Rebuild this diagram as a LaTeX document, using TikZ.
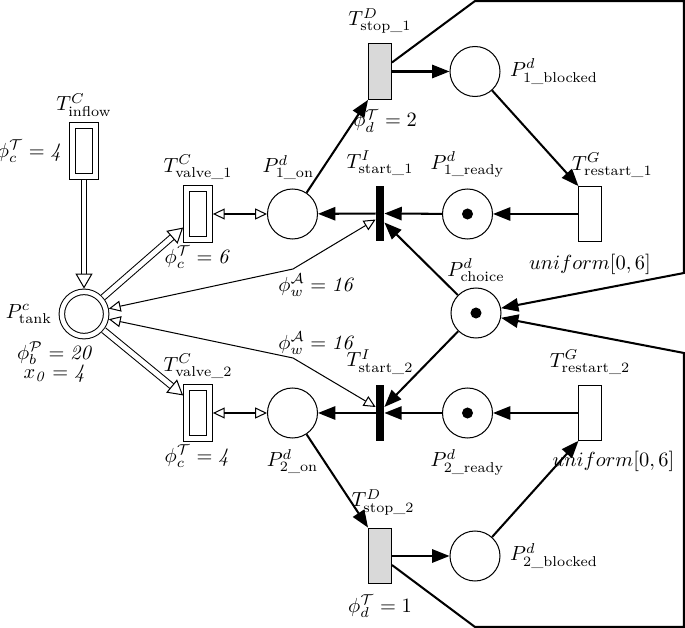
\documentclass[tikz,border=0pt]{standalone}
\usepackage{amsmath,amssymb}
\usetikzlibrary{arrows.meta,positioning,calc}
\tikzset{
  hpn/place/.style={
    circle, draw, line width=0.5pt,
    minimum size=24.5pt, inner sep=0pt
  },
  hpn/marked/.style={
    hpn/place,
    path picture={\fill (path picture bounding box.center) circle (2.7pt);}
  },
  hpn/cplace/.style={
    circle, draw, line width=0.5pt, double, double distance=2.2pt,
    minimum size=21.7pt, inner sep=0pt, outer sep=1.6pt
  },
  hpn/ctrans/.style={
    rectangle, draw, line width=0.5pt, double, double distance=2.4pt,
    minimum width=11.2pt, minimum height=24.6pt, inner sep=0pt, outer sep=1.7pt
  },
  hpn/itrans/.style={rectangle, fill=black, minimum width=3.9pt, minimum height=27.3pt, inner sep=0pt},
  hpn/dtrans/.style={rectangle, draw, line width=0.5pt, fill=black!15, minimum width=11.2pt, minimum height=27.3pt, inner sep=0pt},
  hpn/gtrans/.style={rectangle, draw, line width=0.5pt, fill=white, minimum width=10.8pt, minimum height=26.8pt, inner sep=0pt},
  hpn/lbl/.style={inner sep=0pt},
  hpn/arc/.style={line width=1pt, -{Triangle[length=8.5pt,width=6.5pt]}},
  hpn/carc/.style={line width=0.5pt, {Triangle[open,length=5.8pt,width=5.4pt]}-{Triangle[open,length=5.8pt,width=5.4pt]}},
  hpn/flow/.style={line width=0.5pt, double, double distance=2.4pt, -{Triangle[open,length=7.3pt,width=8.3pt]}}
}

\begin{document}
\begin{tikzpicture}[x=0.49pt, y=-0.49pt]
\useasboundingbox (0,0) rectangle (685,628);

% --- continuous part
\node[hpn/ctrans] (Tin) at (84,151) {};
\node[hpn/cplace] (Ptank) at (84,314) {};
\node[hpn/ctrans] (Tv1) at (198,214) {};
\node[hpn/ctrans] (Tv2) at (198,413) {};

% --- discrete part
\node[hpn/place] (P1on) at (292.5,214) {};
\node[hpn/place] (P2on) at (292.5,413) {};
\node[hpn/itrans] (Ts1) at (380,213.5) {};
\node[hpn/itrans] (Ts2) at (380,413) {};
\node[hpn/dtrans] (Tst1) at (380,71.5) {};
\node[hpn/dtrans] (Tst2) at (380,556) {};
\node[hpn/place] (P1b) at (475,71.5) {};
\node[hpn/place] (P2b) at (475,556) {};
\node[hpn/marked] (P1r) at (467.5,214) {};
\node[hpn/marked] (P2r) at (467.5,413) {};
\node[hpn/marked] (Pch) at (476,313) {};
\node[hpn/gtrans] (Tr1) at (590,214) {};
\node[hpn/gtrans] (Tr2) at (590,413) {};

% --- labels
\node[hpn/lbl, above=2.5pt of Tin] (Tin-n) {$T^{C}_{\text{inflow}}$};
\node[hpn/lbl, left=2.5pt of Tin] (Tin-p) {$\phi^{\mathcal{T}}_{c} = \mathit{4}$};
\node[hpn/lbl, left=3pt of Ptank] (Ptank-n) {$P^{c}_{\text{tank}}$};
\node[hpn/lbl, align=center, below=1pt of Ptank, xshift=-14pt] (Ptank-p)
  {$\phi^{\mathcal{P}}_{b} = \mathit{20}$\\[-2.5pt] $x_{\mathit{0}} = \mathit{4}$};
\node[hpn/lbl, above=2.5pt of Tv1] (Tv1-n) {$T^{C}_{\text{valve\_1}}$};
\node[hpn/lbl, below=1.5pt of Tv1] (Tv1-p) {$\phi^{\mathcal{T}}_{c} = \mathit{6}$};
\node[hpn/lbl, above=2.5pt of Tv2] (Tv2-n) {$T^{C}_{\text{valve\_2}}$};
\node[hpn/lbl, below=1.5pt of Tv2] (Tv2-p) {$\phi^{\mathcal{T}}_{c} = \mathit{4}$};
\node[hpn/lbl, above=4pt of P1on, xshift=-2pt] (P1on-n) {$P^{d}_{\text{1\_on}}$};
\node[hpn/lbl, below=5pt of P2on] (P2on-n) {$P^{d}_{\text{2\_on}}$};
\node[hpn/lbl, above=4.5pt of Ts1] (Ts1-n) {$T^{I}_{\text{start\_1}}$};
\node[hpn/lbl, above=5pt of Ts2] (Ts2-n) {$T^{I}_{\text{start\_2}}$};
\node[hpn/lbl, above=4.5pt of Tst1] (Tst1-n) {$T^{D}_{\text{stop\_1}}$};
\node[hpn/lbl, below=4.5pt of Tst1, xshift=2.5pt] (Tst1-p) {$\phi^{\mathcal{T}}_{d} = 2$};
\node[hpn/lbl, above=6pt of Tst2, xshift=1.5pt] (Tst2-n) {$T^{D}_{\text{stop\_2}}$};
\node[hpn/lbl, below=5pt of Tst2] (Tst2-p) {$\phi^{\mathcal{T}}_{d} = 1$};
\node[hpn/lbl, right=4.5pt of P1b] (P1b-n) {$P^{d}_{\text{1\_blocked}}$};
\node[hpn/lbl, right=4.5pt of P2b] (P2b-n) {$P^{d}_{\text{2\_blocked}}$};
\node[hpn/lbl, above=5pt of P1r] (P1r-n) {$P^{d}_{\text{1\_ready}}$};
\node[hpn/lbl, below=5pt of P2r] (P2r-n) {$P^{d}_{\text{2\_ready}}$};
\node[hpn/lbl, above=2.5pt of Pch] (Pch-n) {$P^{d}_{\text{choice}}$};
\node[hpn/lbl, above=4pt of Tr1, xshift=11pt] (Tr1-n) {$T^{G}_{\text{restart\_1}}$};
\node[hpn/lbl, below=6pt of Tr1] (Tr1-p) {$uniform[0,6]$};
\node[hpn/lbl, above=5pt of Tr2] (Tr2-n) {$T^{G}_{\text{restart\_2}}$};
\node[hpn/lbl, below=5pt of Tr2, xshift=11.5pt] (Tr2-p) {$uniform[0,6]$};
\node[hpn/lbl] (w1) at (317,285) {$\phi^{\mathcal{A}}_{w} = \mathit{16}$};
\node[hpn/lbl] (w2) at (317,343) {$\phi^{\mathcal{A}}_{w} = \mathit{16}$};

% --- bends
\coordinate (b1) at (293,269);
\coordinate (b2) at (293,358);
\coordinate (c1) at (475,1);
\coordinate (c2) at (684,1);
\coordinate (c3) at (684,273);
\coordinate (c4) at (475,627);
\coordinate (c5) at (684,627);
\coordinate (c6) at (684,353);

% --- continuous arcs
\draw[hpn/flow] (Tin) -- (Ptank);
\draw[hpn/flow] (Ptank) -- ($(Tv1.south west)+(0,-15)$);
\draw[hpn/flow] (Ptank) -- ($(Tv2.north west)+(0,11)$);
\draw[hpn/carc] (Tv1) -- (P1on);
\draw[hpn/carc] (Tv2) -- (P2on);
\draw[hpn/carc] (Ptank) -- (b1) -- ($(Ts1.west)+(0,6)$);
\draw[hpn/carc] (Ptank) -- (b2) -- ($(Ts2.west)+(0,-6)$);

% --- discrete arcs
\draw[hpn/arc] (Ts1) -- (P1on);
\draw[hpn/arc] (P1r) -- (Ts1);
\draw[hpn/arc] (Pch) -- ($(Ts1.east)+(0,9)$);
\draw[hpn/arc] (Tr1) -- (P1r);
\draw[hpn/arc] (P1b) -- (Tr1.north west);
\draw[hpn/arc] (Tst1) -- (P1b);
\draw[hpn/arc] (P1on) -- (Tst1.south west);
\draw[hpn/arc] ($(Tst1.east)+(0,-9)$) -- (c1) -- (c2) -- (c3) -- (Pch);
\draw[hpn/arc] (Ts2) -- (P2on);
\draw[hpn/arc] (P2r) -- (Ts2);
\draw[hpn/arc] (Pch) -- ($(Ts2.east)+(0,-6)$);
\draw[hpn/arc] (Tr2) -- (P2r);
\draw[hpn/arc] (P2b) -- (Tr2.south west);
\draw[hpn/arc] (Tst2) -- (P2b);
\draw[hpn/arc] (P2on) -- (Tst2.north west);
\draw[hpn/arc] ($(Tst2.east)+(0,9)$) -- (c4) -- (c5) -- (c6) -- (Pch);

\end{tikzpicture}
\end{document}
